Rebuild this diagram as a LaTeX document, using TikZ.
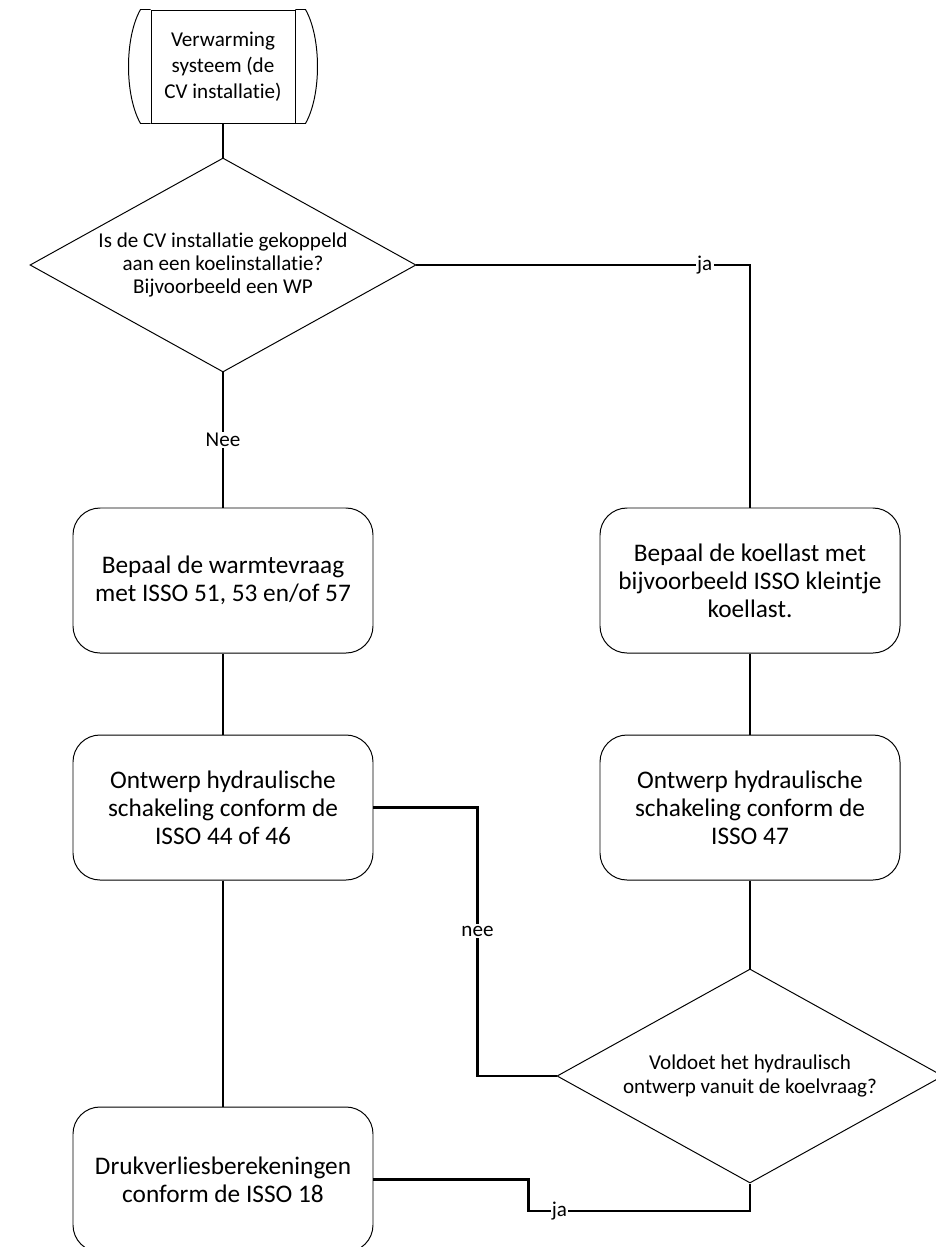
\documentclass[tikz,border=0pt]{standalone}
\usepackage{fontspec}
\setmainfont{Carlito}[Ligatures={NoCommon}]
\usetikzlibrary{shapes.geometric}
\tikzstyle{terminal} = [rectangle, minimum width=3.6cm, minimum height=2.825cm, inner sep=0pt, align=center, draw=black, line width=0.7pt, font=\fontsize{15}{18.4}\selectfont]
\tikzstyle{process} = [rectangle, rounded corners=0.675cm, minimum width=7.5cm, minimum height=3.625cm, align=center, draw=black, line width=0.7pt, font=\fontsize{18}{20}\selectfont]
\tikzstyle{decision} = [diamond, aspect=1.8, minimum width=9.65cm, minimum height=5.35cm, inner sep=0pt, align=center, draw=black, line width=0.7pt, font=\fontsize{15}{16.4}\selectfont]
\tikzstyle{connector} = [line width=1.5pt]
\tikzstyle{connlabel} = [fill=white, inner sep=1pt, font=\fontsize{15}{16}\selectfont]

\begin{document}
\begin{tikzpicture}[node distance=5.675cm]
	\useasboundingbox (-5.575,1.6625) rectangle (17.8,-29.5125);
	\node (n0) [terminal] {Verwarming\\systeem (de\\CV installatie)};
	\node (n1) [decision, below of=n0, yshift=0.7125cm] {Is de CV installatie gekoppeld\\aan een koelinstallatie?\\Bijvoorbeeld een WP};
	\node (n2) [process, below of=n1, yshift=-2.2125cm] {Bepaal de warmtevraag\\met ISSO 51, 53 en/of 57};
	\node (n3) [process, below of=n2] {Ontwerp hydraulische\\schakeling conform de\\ISSO 44 of 46};
	\node (n4) [process, below of=n3, yshift=-3.625cm] {Drukverliesberekeningen\\conform de ISSO 18};
	\node (n5) [process, right of=n2, xshift=7.5cm] {Bepaal de koellast met\\bijvoorbeeld ISSO kleintje\\koellast.};
	\node (n6) [process, below of=n5] {Ontwerp hydraulische\\schakeling conform de\\ISSO 47};
	\node (n7) [decision, below of=n6, yshift=-1.0375cm] {Voldoet het hydraulisch\\ontwerp vanuit de koelvraag?};
	
	% zijkanten van de start
	\draw [line width=0.7pt] (n0.north west) -- ++(-2.5mm,0) .. controls +(-4mm,-7mm) and +(-4mm,7mm) .. ([xshift=-2.5mm]n0.south west) -- (n0.south west);
	\draw [line width=0.7pt] (n0.north east) -- ++(2.5mm,0) .. controls +(4mm,-7mm) and +(4mm,7mm) .. ([xshift=2.5mm]n0.south east) -- (n0.south east);
	
	\draw [connector] (n0) -- (n1);
	\draw [connector] (n1) -- node[connlabel] {Nee} (n2);
	\draw [connector] (n1.east) -| node[connlabel, pos=0.432] {ja} (n5.north);
	\draw [connector] (n2) -- (n3);
	\draw [connector] (n3) -- (n4);
	\draw [connector] (n5) -- (n6);
	\draw [connector] (n6) -- (n7);
	\draw [connector] (n3.east) -- ++(2.6cm,0) |- node[connlabel, pos=0.23] {nee} (n7.west);
	\draw [connector] (n4.east) -- ++(3.875cm,0) -- ++(0,-0.7875cm) -| node[connlabel, pos=0.07] {ja} (n7.south);
\end{tikzpicture}
\end{document}
